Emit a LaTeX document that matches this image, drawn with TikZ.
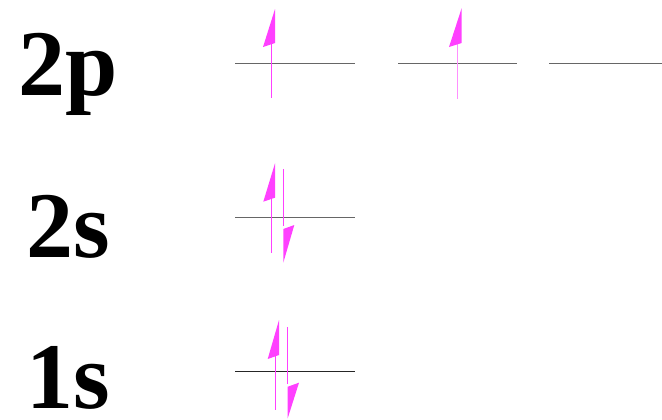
\documentclass[tikz,border=0pt]{standalone}
\usepackage{fontspec}
\setmainfont{Liberation Serif}
\definecolor{spinclr}{RGB}{255,64,255}
\definecolor{spinlightclr}{RGB}{255,144,255}
\definecolor{levelclr}{RGB}{102,102,102}
\begin{document}
\begin{tikzpicture}[x=1bp,y=-1bp,
  lbl/.style={anchor=base west,inner sep=0pt,font=\fontsize{94bp}{94bp}\selectfont\bfseries},
  levelline/.style={draw=levelclr,line width=1.3bp},
  shaftline/.style={fill=spinclr},
  headfill/.style={fill=spinclr}]
\useasboundingbox (0,0) rectangle (662,419);
% labels
\node[lbl] (l2p) at (18.5,95) {2p};
\node[lbl] (l2s) at (26,257) {2s};
\node[lbl] (l1s) at (26,408.5) {1s};
% levels
\coordinate (p1a) at (235,63.5); \coordinate (p1b) at (355,63.5);
\coordinate (p2a) at (398,63.5); \coordinate (p2b) at (517,63.5);
\coordinate (p3a) at (549,63.5); \coordinate (p3b) at (662,63.5);
\coordinate (s2a) at (235,217.7); \coordinate (s2b) at (355,217.7);
\coordinate (s1a) at (235,371.7); \coordinate (s1b) at (355,371.7);
\draw[levelline] (p1a) -- (p1b);
\draw[levelline] (p2a) -- (p2b);
\draw[levelline] (p3a) -- (p3b);
\draw[levelline] (s2a) -- (s2b);
\draw[levelline,draw=black!85] (s1a) -- (s1b);
% 2p electrons
\fill[shaftline] (271,98) rectangle (272.4,44);
\fill[headfill] (275,9) -- (263,47) -- (275,43) -- cycle;
\fill[shaftline,fill=spinlightclr] (457,99) rectangle (458.4,44);
\fill[headfill] (461.7,8) -- (449,47) -- (461.7,43) -- cycle;
% 2s electrons
\fill[shaftline] (271,252.7) rectangle (272.4,198);
\fill[headfill] (275,163.3) -- (263.3,201.7) -- (275,197.7) -- cycle;
\fill[shaftline] (282.6,169.3) rectangle (284,226);
\fill[headfill] (283.3,229) -- (294.3,225) -- (283.3,262.7) -- cycle;
% 1s electrons
\fill[shaftline] (274.6,410) rectangle (276,356);
\fill[headfill] (279,320) -- (267.7,359) -- (279,355) -- cycle;
\fill[shaftline] (287,327.3) rectangle (288.4,384);
\fill[headfill] (287.7,386.7) -- (299,382.7) -- (287.7,418.3) -- cycle;
\end{tikzpicture}
\end{document}
